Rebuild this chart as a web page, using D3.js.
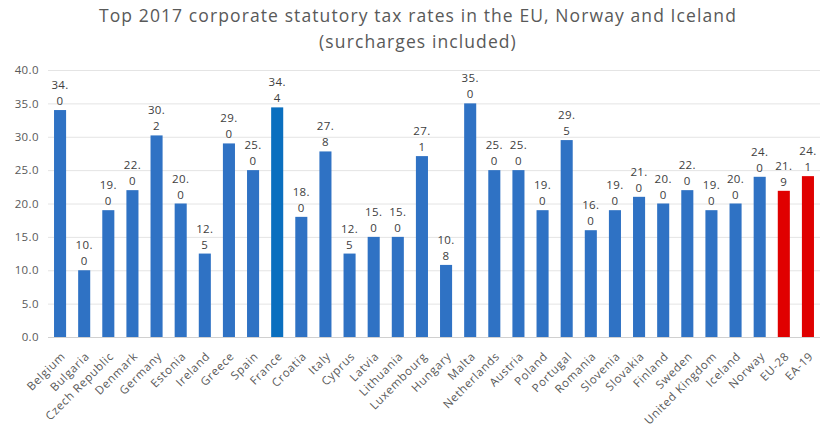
<!DOCTYPE html>
<html>
<head>
<meta charset="utf-8">
<script src="https://cdn.jsdelivr.net/npm/d3@7"></script>
<style>
  body { margin: 0; background: #fff; }
  text { font-family: "Open Sans", sans-serif; }
</style>
</head>
<body>
<div id="chart"></div>
<script>
const width = 836;
const height = 438;

// data
const countries = ["Belgium", "Bulgaria", "Czech Republic", "Denmark", "Germany", "Estonia", "Ireland",
  "Greece", "Spain", "France", "Croatia", "Italy", "Cyprus", "Latvia", "Lithuania", "Luxembourg",
  "Hungary", "Malta", "Netherlands", "Austria", "Poland", "Portugal", "Romania", "Slovenia",
  "Slovakia", "Finland", "Sweden", "United Kingdom", "Iceland", "Norway", "EU-28", "EA-19"];
const rates = [34.0, 10.0, 19.0, 22.0, 30.2, 20.0, 12.5, 29.0, 25.0, 34.4, 18.0, 27.8, 12.5, 15.0,
  15.0, 27.1, 10.8, 35.0, 25.0, 25.0, 19.0, 29.5, 16.0, 19.0, 21.0, 20.0, 22.0, 19.0, 20.0, 24.0,
  21.9, 24.1];
const yTicks = [0, 5, 10, 15, 20, 25, 30, 35, 40];
const titleLines = ["Top 2017 corporate statutory tax rates in the EU, Norway and Iceland",
  "(surcharges included)"];

const data = countries.map((c, i) => ({ country: c, value: rates[i] }));

const colorFor = d => {
    if (d.country === "EU-28" || d.country === "EA-19") return "#e00000";
    if (d.country === "France") return "#0a6fbf";
    return "#2f72c4";
};

const svg = d3.select("#chart")
    .append("svg")
        .attr("width", width)
        .attr("height", height);

// scales
const x = d3.scaleBand()
    .domain(countries)
    .range([48, 820])
    .paddingInner(0.5)
    .paddingOuter(0.25);

const y = d3.scaleLinear()
    .domain([0, 40])
    .range([337, 70]);

// title
svg.append("g")
    .selectAll("text")
    .data(titleLines)
    .enter().append("text")
        .attr("x", 418)
        .attr("y", (d, i) => 22 + i * 26)
        .attr("text-anchor", "middle")
        .attr("fill", "#595959")
        .style("font-size", "17.5px")
        .style("letter-spacing", "1.1px")
        .text(d => d);

// gridlines + y labels
const yAxis = svg.append("g")
    .attr("transform", "translate(48,0)")
    .call(d3.axisLeft(y).tickValues(yTicks).tickSize(-772).tickFormat(d3.format(".1f")).tickPadding(9));
yAxis.select(".domain").remove();
yAxis.selectAll(".tick line")
    .attr("stroke", d => d === 0 ? "#d0d0d0" : "#e4e4e4");
yAxis.selectAll(".tick text")
    .attr("fill", "#595959")
    .style("font-size", "11.5px")
    .style("letter-spacing", "0.4px");

// bars
svg.append("g")
    .selectAll("rect")
    .data(data)
    .enter().append("rect")
        .attr("x", d => x(d.country))
        .attr("y", d => y(d.value))
        .attr("width", x.bandwidth())
        .attr("height", d => y(0) - y(d.value))
        .attr("fill", colorFor);

// value labels, wrapped in two lines like the original
const fmt = d3.format(".1f");
const labels = svg.append("g")
    .selectAll("text")
    .data(data)
    .enter().append("text")
        .attr("text-anchor", "middle")
        .attr("fill", "#404040")
        .style("font-size", "11.5px")
        .style("letter-spacing", "0.4px");
labels.append("tspan")
    .attr("x", d => x(d.country) + x.bandwidth() / 2)
    .attr("y", d => y(d.value) - 21)
    .text(d => fmt(d.value).split(".")[0] + ".");
labels.append("tspan")
    .attr("x", d => x(d.country) + x.bandwidth() / 2)
    .attr("y", d => y(d.value) - 5)
    .text(d => fmt(d.value).split(".")[1]);

// x labels
const xAxis = svg.append("g")
    .attr("transform", "translate(0,337)")
    .call(d3.axisBottom(x).tickSize(0).tickPadding(0));
xAxis.select(".domain").remove();
xAxis.selectAll(".tick text")
    .attr("fill", "#595959")
    .style("font-size", "11.5px")
    .style("letter-spacing", "0.7px")
    .attr("text-anchor", "end")
    .attr("dy", 0)
    .attr("transform", "translate(6,20) rotate(-45)");
</script>
</body>
</html>
